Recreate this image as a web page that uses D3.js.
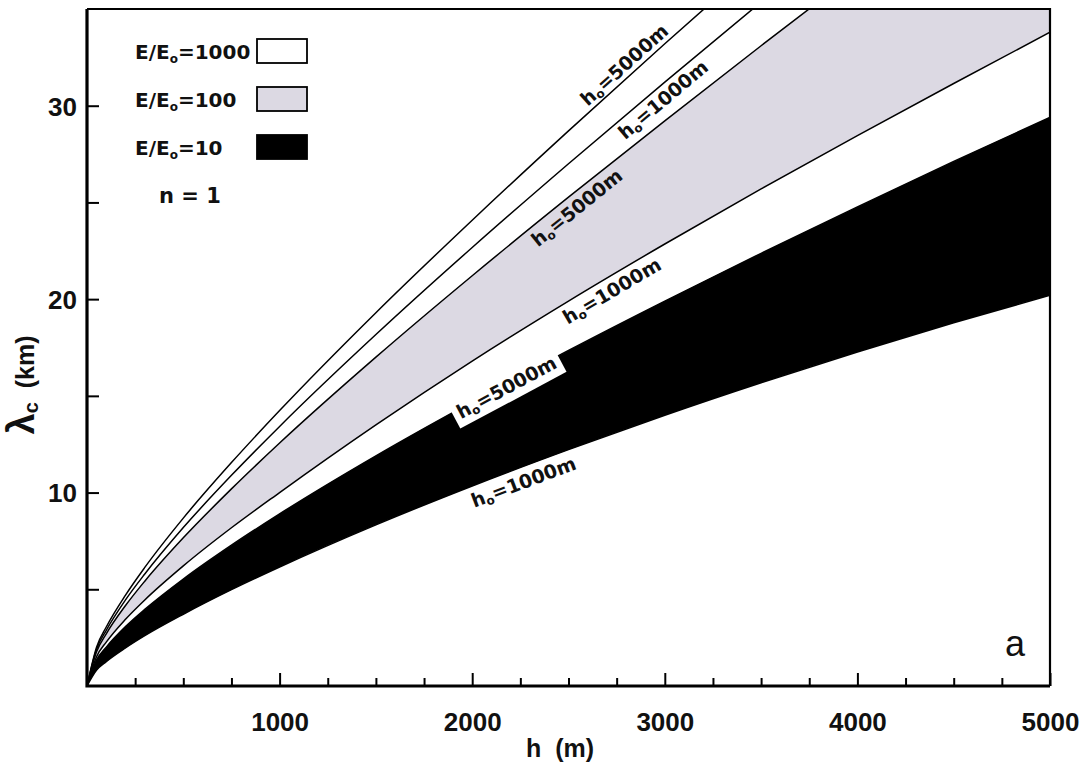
<!DOCTYPE html>
<html>
<head>
<meta charset="utf-8">
<script src="https://cdn.jsdelivr.net/npm/d3@7"></script>
<style>
	body { margin: 0; background: #fff; }
	svg { display: block; }
	.lbl { font-family: "DejaVu Sans", sans-serif; font-weight: bold; fill: #111; }
	.tick text { font-family: "Liberation Sans", Arial, sans-serif; font-weight: bold; font-size: 26px; fill: #111; }
</style>
</head>
<body>
<div id="chart"></div>
<script>
// h (m) and lambda_c (km), one pair of arrays per curve
const h_1000_5000 = [0, 50, 100, 200, 300, 500, 750, 1000, 1500, 2000, 2500, 3000, 3250];
const lam_1000_5000 = [0, 2.02, 3.05, 4.70, 6.13, 8.68, 11.55, 14.24, 19.30, 24.08, 28.70, 33.20, 35.41];

const h_1000_1000 = [0, 50, 100, 200, 300, 500, 750, 1000, 1500, 2000, 2500, 3000, 3500];
const lam_1000_1000 = [0, 1.91, 2.88, 4.45, 5.79, 8.19, 10.89, 13.42, 18.17, 22.67, 27.0, 31.22, 35.36];

const h_100_5000 = [0, 50, 100, 200, 300, 500, 750, 1000, 1500, 2000, 2500, 3000, 3500, 3800];
const lam_100_5000 = [0, 1.78, 2.70, 4.16, 5.42, 7.66, 10.19, 12.56, 17.0, 21.21, 25.27, 29.22, 33.10, 35.39];

const h_100_1000 = [0, 50, 100, 200, 300, 500, 750, 1000, 1500, 2000, 2500, 3000, 3500, 4000, 4500, 5000];
const lam_100_1000 = [0, 1.52, 2.27, 3.45, 4.45, 6.21, 8.18, 10.0, 13.5, 16.8, 19.9, 22.85, 25.7, 28.45, 31.15, 33.8];

const h_10_5000 = [0, 50, 100, 200, 300, 500, 750, 1000, 1500, 2000, 2500, 3000, 3500, 4000, 4500, 5000];
const lam_10_5000 = [0, 1.35, 2.01, 3.07, 3.96, 5.53, 7.28, 8.90, 11.90, 14.69, 17.35, 19.90, 22.37, 24.77, 27.12, 29.4];

const h_10_1000 = [0, 50, 100, 200, 300, 500, 750, 1000, 1500, 2000, 2500, 3000, 3500, 4000, 4500, 5000];
const lam_10_1000 = [0, 0.82, 1.26, 1.97, 2.60, 3.71, 4.98, 6.15, 8.33, 10.34, 12.22, 14.0, 15.68, 17.27, 18.78, 20.2];

const xMajor = [1000, 2000, 3000, 4000, 5000];
const xMinor = [250, 500, 750, 1250, 1500, 1750, 2250, 2500, 2750, 3250, 3500, 3750, 4250, 4500, 4750];
const yTicks = [5, 10, 15, 20, 25, 30];
const yLabels = [10, 20, 30];

const legendNames = ['1000', '100', '10'];
const legendFills = ['#ffffff', '#dcd9e3', '#000000'];

// curve labels: which curve, where along it (h), offset across it (px, + = below)
const curveLabels = [
	{ t: '5000m', c: 0, h: 2830, off: -12, box: false },
	{ t: '1000m', c: 1, h: 2950, off: 12, box: false },
	{ t: '5000m', c: 2, h: 2500, off: 13, box: false },
	{ t: '1000m', c: 3, h: 2690, off: 13, box: false },
	{ t: '5000m', c: 4, h: 2170, off: 3, box: true },
	{ t: '1000m', c: 5, h: 2240, off: 14, box: false }
];

const W = 1086, H = 767;
const x = d3.scaleLinear().domain([0, 5000]).range([87, 1050]);
const y = d3.scaleLinear().domain([0, 35]).range([686, 9]);

const pts = (hs, ls) => hs.map((h, i) => [h, ls[i]]);
const curves = [
	pts(h_1000_5000, lam_1000_5000), pts(h_1000_1000, lam_1000_1000),
	pts(h_100_5000, lam_100_5000), pts(h_100_1000, lam_100_1000),
	pts(h_10_5000, lam_10_5000), pts(h_10_1000, lam_10_1000)
];
const bands = [
	{ up: curves[0], lo: curves[1], fill: legendFills[0] },
	{ up: curves[2], lo: curves[3], fill: legendFills[1] },
	{ up: curves[4], lo: curves[5], fill: legendFills[2] }
];

const svg = d3.select('#chart').append('svg')
	.attr('width', W)
	.attr('height', H);

svg.append('defs').append('clipPath').attr('id', 'plot')
	.append('rect')
	.attr('x', x(0)).attr('y', y(35))
	.attr('width', x(5000) - x(0)).attr('height', y(0) - y(35));

const line = d3.line()
	.curve(d3.curveMonotoneX)
	.x(d => x(d[0]))
	.y(d => y(d[1]));

const plot = svg.append('g').attr('clip-path', 'url(#plot)');

// filled bands: upper curve forward, lower curve back
bands.forEach(b => {
	const upLast = b.up[b.up.length - 1], loLast = b.lo[b.lo.length - 1];
	const mid = [loLast[0], Math.max(upLast[1], loLast[1], 35.3)];
	const back = line(b.lo.slice().reverse()).replace(/^M/, 'L');
	const d = line(b.up) + 'L' + x(mid[0]) + ',' + y(mid[1]) + back + 'Z';
	plot.append('path')
		.attr('d', d)
		.attr('fill', b.fill)
		.attr('stroke', 'none');
});

// curve outlines
curves.forEach(c => {
	plot.append('path')
		.attr('d', line(c))
		.attr('fill', 'none')
		.attr('stroke', '#000')
		.attr('stroke-width', 1.5);
});

// point on a curve at h (linear between read points)
const lamAt = (c, h) => {
	const i = Math.max(1, d3.bisector(d => d[0]).left(c, h));
	const a = c[i - 1], b = c[i];
	return a[1] + (b[1] - a[1]) * (h - a[0]) / (b[0] - a[0]);
};

curveLabels.forEach(l => {
	const c = curves[l.c];
	const px = x(l.h), py = y(lamAt(c, l.h));
	const dx = x(l.h + 150) - x(l.h - 150);
	const dy = y(lamAt(c, l.h + 150)) - y(lamAt(c, l.h - 150));
	const ang = Math.atan2(dy, dx) * 180 / Math.PI;
	const g = svg.append('g')
		.attr('transform', `translate(${px},${py}) rotate(${ang}) translate(0,${l.off})`);
	const t = g.append('text')
		.attr('class', 'lbl')
		.attr('font-size', 19)
		.attr('text-anchor', 'middle')
		.attr('y', 7);
	t.append('tspan').text('h');
	t.append('tspan').attr('font-size', 12).attr('dy', 3).text('o');
	t.append('tspan').attr('dy', -3).text('=' + l.t);
	if (l.box) {
		const bb = t.node().getBBox();
		g.insert('rect', 'text')
			.attr('x', bb.x - 5).attr('y', bb.y - 1)
			.attr('width', bb.width + 10).attr('height', bb.height + 3)
			.attr('fill', '#fff');
	}
});

// axes
const customX = (g, vals, size, labels) => {
	g.call(d3.axisBottom(x).tickValues(vals).tickSizeInner(-size).tickSizeOuter(0).tickPadding(27)
		.tickFormat(labels ? d3.format('d') : ''));
	g.select('.domain').remove();
	g.selectAll('.tick line').attr('stroke', '#000').attr('stroke-width', 2);
};

svg.append('g').attr('transform', `translate(0,${y(0)})`).call(customX, xMinor, 8, false);
svg.append('g').attr('transform', `translate(0,${y(0)})`).call(customX, xMajor, 13, true);

const yAxis = svg.append('g').attr('transform', `translate(${x(0)},0)`)
	.call(d3.axisLeft(y).tickValues(yTicks).tickSizeInner(-12).tickSizeOuter(0).tickPadding(10)
		.tickFormat(d => yLabels.includes(d) ? d : ''));
yAxis.select('.domain').remove();
yAxis.selectAll('.tick line').attr('stroke', '#000').attr('stroke-width', 2);
yAxis.selectAll('.tick text').attr('dy', '0.36em');

// frame
svg.append('path')
	.attr('d', `M${x(0)},${y(35)}H${x(5000)}V${y(0)}`)
	.attr('fill', 'none').attr('stroke', '#000').attr('stroke-width', 2.2);
svg.append('path')
	.attr('d', `M${x(0)},${y(35)}V${y(0)}H${x(5000)}`)
	.attr('fill', 'none').attr('stroke', '#000').attr('stroke-width', 3.2);

// legend
const leg = svg.append('g');
legendNames.forEach((n, i) => {
	const t = leg.append('text')
		.attr('class', 'lbl')
		.attr('font-size', 20)
		.attr('x', 135)
		.attr('y', 59 + i * 48);
	t.append('tspan').text('E/E');
	t.append('tspan').attr('font-size', 12).attr('dy', 4).text('o');
	t.append('tspan').attr('dy', -4).text('=' + n);
	leg.append('rect')
		.attr('x', 257).attr('y', 39 + i * 48)
		.attr('width', 50).attr('height', 24)
		.attr('fill', legendFills[i])
		.attr('stroke', '#000').attr('stroke-width', 1.8);
});
leg.append('text')
	.attr('class', 'lbl')
	.attr('font-size', 21)
	.attr('x', 159).attr('y', 203)
	.text('n = 1');

// axis titles
svg.append('text')
	.attr('x', 560).attr('y', 757)
	.attr('text-anchor', 'middle')
	.attr('font-family', '"Liberation Sans", Arial, sans-serif')
	.attr('font-weight', 'bold')
	.attr('font-size', 25)
	.attr('fill', '#111')
	.text('h\u00a0\u00a0(m)');

const yt = svg.append('text')
	.attr('transform', 'translate(34,385) rotate(-90)')
	.attr('text-anchor', 'middle')
	.attr('font-family', '"Liberation Sans", Arial, sans-serif')
	.attr('font-weight', 'bold')
	.attr('fill', '#111');
yt.append('tspan').attr('font-size', 38).text('λ');
yt.append('tspan').attr('font-size', 20).attr('dy', 4).text('c');
yt.append('tspan').attr('font-size', 25).attr('dy', -4).text('\u00a0\u00a0(km)');

svg.append('text')
	.attr('x', 1015).attr('y', 656)
	.attr('text-anchor', 'middle')
	.attr('font-family', '"Liberation Sans", Arial, sans-serif')
	.attr('font-size', 36)
	.attr('fill', '#111')
	.text('a');
</script>
</body>
</html>
